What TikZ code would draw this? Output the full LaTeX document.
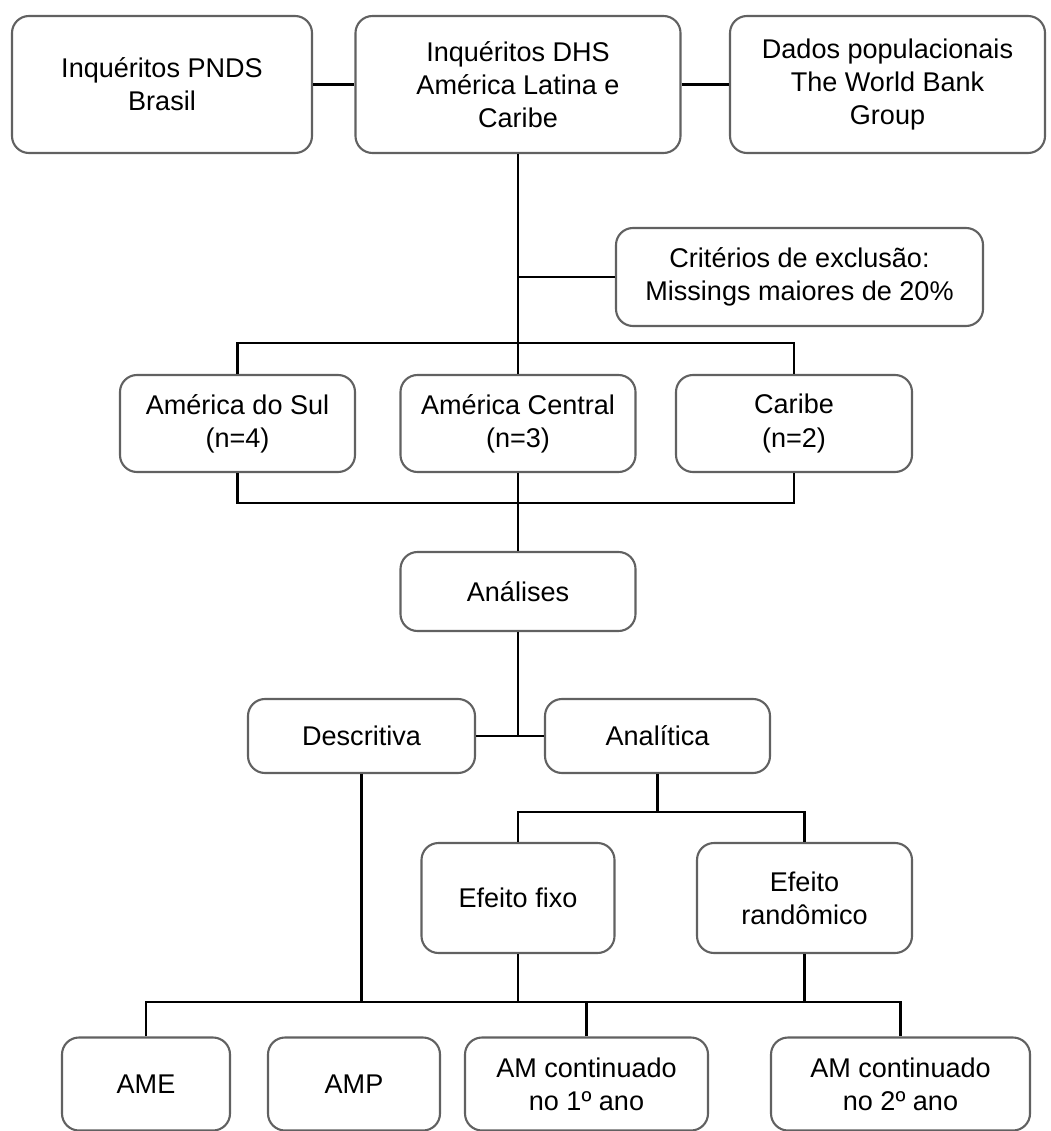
\documentclass[tikz,border=0pt]{standalone}
\usepackage{fontspec}
\setmainfont{Liberation Sans}

\begin{document}
\begin{tikzpicture}[x=0.02cm,y=-0.02cm,font=\fontsize{15.4}{18.8}\selectfont,
  box/.style={draw=black!62,line width=1.2pt,rounded corners=0.34cm,align=center,inner sep=2pt},
  boxsize/.style 2 args={minimum width=#1*0.02cm,minimum height=#2*0.02cm},
  link/.style={line width=1.5pt,black}]
\useasboundingbox (0,0) rectangle (1050,1131);
\node[box,boxsize={300}{137}] (pnds) at (162,84.5) {Inquéritos PNDS\\Brasil};
\node[box,boxsize={325}{137}] (dhs) at (518,84.5) {Inquéritos DHS\\América Latina e\\Caribe};
\node[box,boxsize={315}{137}] (dados) at (887.5,84.5) {Dados populacionais\\The World Bank\\Group};
\node[box,boxsize={367}{98}] (crit) at (799.5,277) {Critérios de exclusão:\\Missings maiores de 20\%};
\node[box,boxsize={235}{97}] (sul) at (237.5,423.5) {América do Sul\\(n=4)};
\node[box,boxsize={235}{97}] (central) at (518,423.5) {América Central\\(n=3)};
\node[box,boxsize={236}{97}] (caribe) at (794,423.5) {Caribe\\(n=2)};
\node[box,boxsize={235}{79}] (analises) at (518,591.5) {Análises};
\node[box,boxsize={227}{74}] (desc) at (361.5,736) {Descritiva};
\node[box,boxsize={225}{74}] (anal) at (657.5,736) {Analítica};
\node[box,boxsize={193}{110}] (fixo) at (518,898) {Efeito fixo};
\node[box,boxsize={215}{110}] (rand) at (804.5,898) {Efeito\\randômico};
\node[box,boxsize={168}{93}] (ame) at (146,1084) {AME};
\node[box,boxsize={172}{93}] (amp) at (354,1084) {AMP};
\node[box,boxsize={243}{93}] (amone) at (586.5,1084) {AM continuado\\no 1º ano};
\node[box,boxsize={259}{93}] (amtwo) at (900.5,1084) {AM continuado\\no 2º ano};
\coordinate (topbar) at (518,343);
\coordinate (midbar) at (518,503);
\coordinate (effbar) at (657.5,812);
\coordinate (lowbar) at (518,1002);
\draw[link] (pnds.east) -- (dhs.west);
\draw[link] (dhs.east) -- (dados.west);
\draw[link] (dhs.south) -- (central.north);
\draw[link] (crit.west) -- (crit.west -| dhs.south);
\draw[link] (sul.north) |- (topbar) -| (caribe.north);
\draw[link] (sul.south) |- (midbar) -| (caribe.south);
\draw[link] (central.south) -- (analises.north);
\draw[link] (analises.south) -- (analises.south |- desc.east);
\draw[link] (desc.east) -- (anal.west);
\draw[link] (anal.south) -- (effbar);
\draw[link] (fixo.north) |- (effbar) -| (rand.north);
\draw[link] (ame.north) |- (lowbar) -| (amtwo.north);
\draw[link] (amone.north) -- (amone.north |- lowbar);
\draw[link] (desc.south) -- (desc.south |- lowbar);
\draw[link] (fixo.south) -- (lowbar);
\draw[link] (rand.south) -- (rand.south |- lowbar);
\end{tikzpicture}
\end{document}
